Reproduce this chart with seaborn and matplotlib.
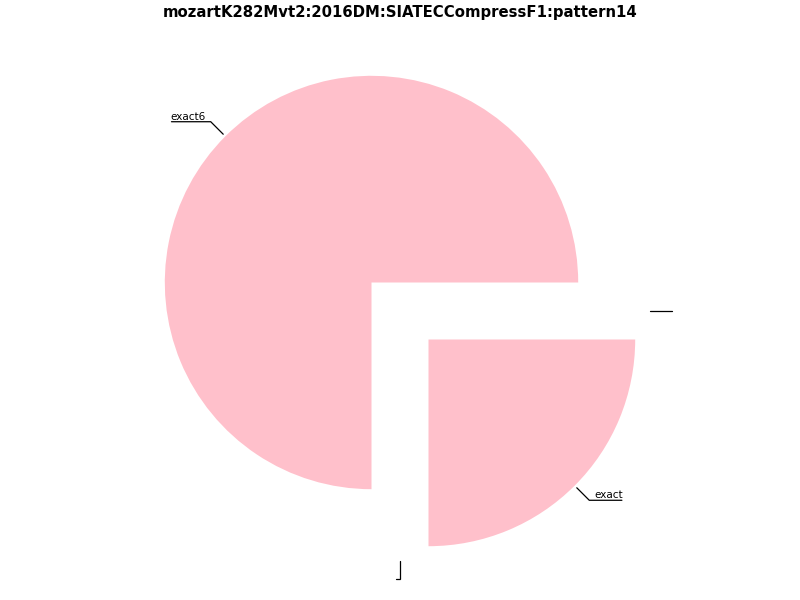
import numpy as np
import matplotlib
matplotlib.use("Agg")
import matplotlib.pyplot as plt
import seaborn as sns

# chart data
title = "mozartK282Mvt2:2016DM:SIATECCompressF1:pattern14"
labels = ["exact6", "", "exact", ""]
values = [3, 0, 1, 0]
slice_color = "pink"

sns.set_theme(style="white")
plt.rcParams["font.family"] = ["DejaVu Sans"]
plt.rcParams["text.color"] = "black"

fig = plt.figure(figsize=(8, 6), dpi=100)
ax = fig.add_axes([0, 0, 1, 1])

wedges, _ = ax.pie(values, labels=None, startangle=0, counterclock=True,
                   explode=[0.195] * len(values),
                   colors=sns.color_palette([slice_color] * len(values)),
                   wedgeprops=dict(linewidth=0))

# place the pie: centre at (400, 311) px, 1 data unit = 206.7 px
unit = 206.7
ax.set_xlim(-400 / unit, 400 / unit)
ax.set_ylim(-289 / unit, 311 / unit)
ax.set_aspect("equal")
ax.axis("off")

fig.suptitle(title, x=0.5, y=1 - 17.3 / 600, va="baseline",
             fontsize=10.7, fontweight="bold", color="black")

fig.canvas.draw()
renderer = fig.canvas.get_renderer()
to_px = ax.transData
to_data = ax.transData.inverted()

# leader lines: angled leg to 1.1 r, then a horizontal rule under the label
gap = 4
for w, lab in zip(wedges, labels):
    ang = np.deg2rad((float(w.theta1) + float(w.theta2)) / 2)
    cx, cy = w.center
    x, y = np.cos(ang), np.sin(ang)
    sgn = 1 if x > 1e-6 else -1
    edge_px = to_px.transform((cx + w.r * x, cy + w.r * y))
    corner_px = to_px.transform((cx + 1.1 * w.r * x, cy + 1.1 * w.r * y))
    # start the leg a few pixels off the wedge edge
    d = corner_px - edge_px
    start_px = edge_px + d / np.hypot(*d) * 3
    t = ax.text(*corner_px, lab, transform=None, fontsize=7.5, color="black",
                ha="left" if sgn > 0 else "right", va="baseline")
    t.set_position((corner_px[0] + sgn * (gap + 1), corner_px[1] + 2))
    width = t.get_window_extent(renderer).width if lab else 0
    end_px = corner_px + np.array([sgn * (gap + width), 0])
    pts = to_data.transform(np.array([start_px, corner_px, end_px]))
    ax.plot(pts[:, 0], pts[:, 1], color="black", lw=0.9, clip_on=False,
            solid_joinstyle="miter")

fig.savefig("out.png", dpi=100)
